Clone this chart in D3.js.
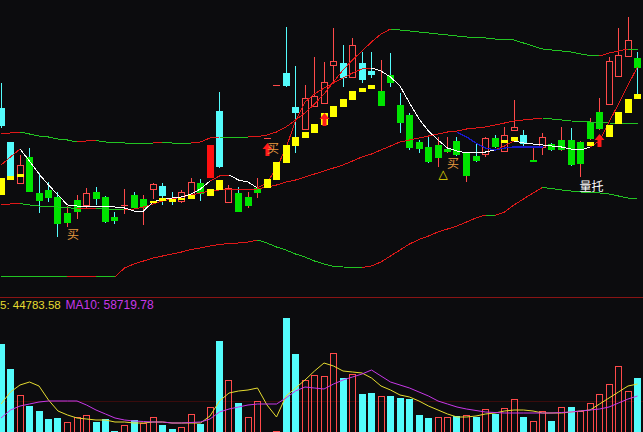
<!DOCTYPE html>
<html><head><meta charset="utf-8">
<script src="https://cdn.jsdelivr.net/npm/d3@7"></script>
<style>html,body{margin:0;padding:0;background:#0c0c0e;overflow:hidden}svg{display:block}</style>
</head><body><svg id="c" width="643" height="432"></svg>
<script>
// ---- data (prices & volumes) ----
const openP=[19.2,15.8,11.6,14.3,10.7,11.0,10.3,7.7,8.8,9.4,10.8,10.3,8.3,9.4,10.5,9.2,11.0,11.4,10.2,9.8,10.5,11.7,12.2,18.9,9.7,10.7,9.4,10.7,16.2,21.5,22.7,19.3,17.0,19.3,19.6,23.4,23.7,22.2,23.7,22.9,19.4,22.5,19.5,18.5,15.8,15.3,14.2,14.8,15.9,12.4,14.4,14.5,16.2,14.8,16.9,16.5,13.8,15.2,15.6,15.0,16.0,13.6,16.1,17.1,19.5,22.3,24.3,24.2];
const closeP=[17.4,12.4,13.5,10.8,9.9,10.2,7.6,8.7,10.0,10.7,10.1,7.8,7.9,9.5,9.2,10.1,11.6,10.4,9.9,10.8,11.8,10.6,15.5,13.3,11.2,8.8,10.3,11.2,16.2,21.5,21.4,18.7,20.2,20.4,21.8,23.9,22.2,25.5,22.0,22.5,20.9,21.7,17.7,15.2,15.1,13.8,15.5,15.1,14.5,14.7,13.9,16.2,15.3,16.5,17.3,15.6,14.0,16.3,15.0,16.0,13.5,15.8,17.8,18.8,23.9,24.5,26.0,23.2];
const highP=[21.7,15.8,14.5,15.2,12.7,11.8,10.8,9.4,10.5,11.2,11.3,10.4,8.8,11.1,10.8,10.5,11.7,11.7,10.8,11.0,12.2,12.1,15.5,20.8,11.5,11.3,10.8,12.2,16.2,21.5,27.3,23.4,21.5,24.3,23.8,27.2,25.5,26.2,24.8,24.8,24.0,24.7,20.7,18.7,16.0,16.3,16.3,16.3,16.3,14.8,15.7,16.3,16.5,17.3,20.0,17.0,15.2,16.7,15.7,17.3,17.2,15.9,18.2,20.2,24.3,27.2,28.3,24.8];
const lowP=[17.2,12.4,11.6,10.8,8.7,9.8,6.3,7.3,8.1,9.2,9.5,7.7,7.6,8.6,9.1,7.5,10.1,9.5,9.5,9.7,10.4,9.9,12.2,13.2,9.7,8.8,9.2,10.2,16.2,21.5,21.3,14.7,17.0,19.3,19.6,21.7,21.3,22.2,21.7,22.2,19.4,21.3,16.7,15.0,14.7,13.7,13.3,14.7,14.4,11.8,13.8,14.3,15.2,14.8,16.9,15.2,13.8,14.5,14.9,14.9,13.4,12.3,16.0,17.0,19.5,22.3,24.3,20.5];
// indicator state per bar: n = plain, g = green signal, r = red signal
const barSignal=['n','n','n','g','g','g','g','g','g','n','g','g','g','n','g','g','n','n','n','n','n','g','r','n','n','g','g','g','n','n','n','n','n','n','n','n','n','n','n','n','g','g','g','g','g','g','g','g','g','g','g','n','g','n','n','n','g','n','g','g','g','g','g','g','n','n','n','g'];
const upperBand=[16.6,16.7,16.8,16.6,16.4,16.3,16.1,16.0,15.8,15.9,15.95,15.8,15.8,15.7,15.7,15.7,15.7,15.75,15.7,15.7,15.7,15.8,16.2,16.3,16.3,16.3,16.3,16.35,16.5,16.8,17.3,18.0,18.7,19.6,20.6,21.8,23.0,24.0,24.9,25.8,26.6,27.1,27.0,26.9,26.8,26.7,26.6,26.5,26.4,26.3,26.25,26.2,26.1,26.05,26.0,25.7,25.4,25.1,25.0,24.9,24.8,24.6,24.45,24.4,24.7,24.9,25.1,25.0];
const midBand=[9.5,9.6,9.65,9.5,9.4,9.4,9.3,9.25,9.1,9.15,9.2,9.1,9.05,9.0,9.1,9.3,9.6,9.9,10.1,10.3,10.5,10.7,10.9,11.0,11.02,11.04,11.06,11.1,11.3,11.5,11.8,12.0,12.3,12.6,12.9,13.2,13.5,13.9,14.3,14.6,15.0,15.4,15.8,16.0,16.2,16.4,16.6,16.8,16.9,17.1,17.2,17.3,17.5,17.7,17.9,18.0,18.1,18.2,18.1,18.0,17.9,17.88,17.8,17.77,17.7,17.68,17.65,17.6];
const lowerBand=[2.4,2.4,2.38,2.36,2.35,2.34,2.32,2.3,2.32,2.34,2.36,2.34,2.32,3.2,3.6,3.9,4.2,4.4,4.6,4.8,5.05,5.2,5.4,5.55,5.65,5.7,5.8,6.0,5.7,5.3,5.0,4.6,4.3,3.9,3.6,3.35,3.3,3.28,3.26,3.4,3.8,4.4,5.0,5.6,6.05,6.4,6.8,7.1,7.4,7.8,8.2,8.5,8.45,8.8,9.5,10.1,10.7,11.25,11.15,11.0,10.9,10.8,10.75,10.7,10.6,10.4,10.2,10.15];
const ma5=[13.5,14.3,15.1,13.9,12.6,11.5,10.5,9.5,9.4,9.4,9.4,9.4,9.3,9.2,8.9,8.9,9.8,10.1,10.2,10.3,10.6,11.1,11.9,12.4,12.5,12.0,11.8,11.2,11.7,13.2,15.2,17.9,19.8,20.6,21.2,21.7,22.2,22.7,23.1,23.2,22.9,22.3,21.4,19.7,18.1,16.9,16.0,15.2,14.9,14.7,14.8,14.8,15.0,15.4,15.9,15.7,15.6,15.5,15.4,15.3,15.1,15.0,15.3,15.9,17.8,19.6,21.5,23.3];
const ma5Bull=[0,1,1,0,0,0,0,0,0,0,0,0,0,0,0,0,0,0,0,0,0,0,0,1,1,0,0,0,1,1,1,1,1,1,1,1,1,1,1,1,0,0,0,0,0,0,0,0,0,0,0,0,0,1,1,0,0,0,0,0,0,0,0,1,1,1,1,1];
const blueIdx=[48,49,50,51,52,53,54,55,56,57];
const blueVal=[16.8,16.3,15.7,15.2,15.0,15.2,15.3,15.3,15.3,15.3];
const yellowIdx=[0,1,2,16,17,18,19,20,22,23,28,29,30,31,32,33,34,35,36,37,38,39,53,54,62,64,65,66,67];
const yellowHi=[12.2,12.4,12.6,9.9,10.2,10.1,10.2,10.5,11.1,12.0,12.1,13.8,15.5,16.3,16.8,17.6,18.7,19.4,20.1,20.9,21.2,21.5,16.0,16.3,15.8,17.5,18.8,20.1,20.6];
const yellowLo=[10.5,12.0,12.3,9.7,9.9,9.8,10.0,10.1,10.4,11.0,11.2,12.0,13.7,15.4,16.2,16.7,17.5,18.3,19.3,20.0,20.8,21.1,15.7,15.9,15.4,16.3,17.6,18.7,20.1];
const arrowIdx=[28,34,63];
const arrowPrice=[15.7,18.7,16.6];
const buyIdx=[7,28,47];
const buyPrice=[6.1,14.7,13.2];
const triIdx=[47];
const triPrice=[12.2];
const noteIdx=[62];
const noteText=['量托'];
const notePrice=[10.9];
const volume=[88000,63000,37000,26000,21000,13000,14000,10000,15000,17000,10000,13000,1000,7000,12000,9000,15000,7000,3000,5000,18000,8000,25000,91000,52000,29000,15000,31000,500,1000,114000,78000,52000,57000,56000,79000,54000,58000,38000,39000,36000,36000,34000,33000,17000,14000,15000,15000,16000,17000,15000,23000,18000,24000,33000,15000,11000,21000,11000,25000,25000,21000,29000,38000,48000,66000,41000,54000];
const volMA5=[28000,40000,47000,50000,46000,32000,21000,17000,14000,13000,12000,12000,10000,10000,9000,9000,10000,10000,9000,9000,9000,9000,16000,31000,39000,41000,42000,44000,27000,15000,36000,44000,52000,61000,69000,66000,61000,60000,59000,54000,46000,42000,37000,35000,31000,26000,22000,18000,15000,15000,16000,18000,19000,21000,22000,22000,21000,19000,19000,19000,20000,21000,22000,28000,34000,40000,46000,48000];
const volMA10=[14000,22000,26000,28000,30000,31000,31000,31000,31000,27000,22000,18000,14000,12000,11000,10500,10000,10000,9000,9000,9500,10000,13000,20000,23000,25000,27000,28000,28000,28000,34000,41000,45000,44000,43000,48000,52000,55000,58000,62000,56000,50000,47000,44000,40000,36000,31000,28000,25000,23000,21500,20000,19500,19000,19000,19000,19000,19000,19000,19500,20000,21000,22000,23000,25000,29000,33000,36000];
const volLabels=['5: 44783.58','MA10: 58719.78'];
const volGrid=[31000];

// ---- drawing ----
const C={bg:'#0c0c0e',up:'#ff4a4a',down:'#54fcfc',green:'#00e400',redFill:'#ff1010',yellow:'#ffff00',
  lineUp:'#e01818',lineDn:'#22c422',white:'#ffffff',blue:'#1818c8',sep:'#8a1414',vma5:'#e6dc30',vma10:'#c838e8',buy:'#e89a40'};
const svg=d3.select('#c');
svg.append('rect').attr('width',643).attr('height',432).attr('fill',C.bg);
const n=openP.length;
const idx=d3.range(n);
const x=d3.scaleLinear().domain([0,n-1]).range([1,637.5]);
const y=d3.scaleLinear().domain([0,30]).range([300,0]);
const yv=d3.scaleLinear().domain([0,140000]).range([432,292]);
const left=i=>Math.round(x(i)-3.5);
const cx=i=>left(i)+3.5;
const py=v=>Math.round(y(v));
const up=i=>closeP[i]>=openP[i];

const defs=svg.append('defs');
defs.append('clipPath').attr('id','cm').append('rect').attr('x',0).attr('y',0).attr('width',643).attr('height',296);
defs.append('clipPath').attr('id','cv').append('rect').attr('x',0).attr('y',298).attr('width',643).attr('height',134);
const gm=svg.append('g').attr('clip-path','url(#cm)');
const gv=svg.append('g').attr('clip-path','url(#cv)');

// candles
const gc=gm.append('g').attr('shape-rendering','crispEdges');
idx.forEach(i=>{
  const col=up(i)?C.up:C.down;
  const hi=py(highP[i]), lo=py(lowP[i]);
  const top=py(Math.max(openP[i],closeP[i])), bot=py(Math.min(openP[i],closeP[i]));
  const h=Math.max(1,bot-top);
  if(lo-hi>0) gc.append('rect').attr('x',left(i)+3).attr('y',hi).attr('width',1).attr('height',lo-hi).attr('fill',col);
  const s=barSignal[i];
  if(s==='g') gc.append('rect').attr('x',left(i)).attr('y',top).attr('width',7).attr('height',h).attr('fill',C.green);
  else if(s==='r') gc.append('rect').attr('x',left(i)).attr('y',top).attr('width',7).attr('height',h).attr('fill',C.redFill);
  else if(up(i)){
    if(h<=2) gc.append('rect').attr('x',left(i)).attr('y',top).attr('width',7).attr('height',h).attr('fill',C.up);
    else gc.append('rect').attr('x',left(i)+0.5).attr('y',top+0.5).attr('width',6).attr('height',h-1).attr('fill',C.bg).attr('stroke',C.up).attr('stroke-width',1);
  } else gc.append('rect').attr('x',left(i)).attr('y',top).attr('width',7).attr('height',h).attr('fill',C.down);
});

// segmented lines
const gl=gm.append('g').attr('fill','none').attr('stroke-width',1).attr('shape-rendering','crispEdges');
const seg=d3.line();
function colored(vals,colorFn){
  for(let i=1;i<vals.length;i++){
    gl.append('path').attr('d',seg([[x(i-1),y(vals[i-1])],[x(i),y(vals[i])]])).attr('stroke',colorFn(i,vals));
  }
}
const slope=(i,v)=>v[i]>v[i-1]?C.lineUp:C.lineDn;
colored(upperBand,slope);
colored(midBand,slope);
colored(lowerBand,slope);
colored(ma5,(i)=>ma5Bull[i]?C.lineUp:C.white);
gl.append('path').attr('d',d3.line().x((d,k)=>x(blueIdx[k])).y(d=>y(d))(blueVal)).attr('stroke',C.blue).attr('stroke-width',1.3);

// yellow signal boxes
const gy=gm.append('g').attr('shape-rendering','crispEdges');
yellowIdx.forEach((i,k)=>{
  const t=py(yellowHi[k]), b=py(yellowLo[k]);
  gy.append('rect').attr('x',left(i)).attr('y',t).attr('width',7).attr('height',Math.max(1,b-t)).attr('fill',C.yellow);
});

// arrows
arrowIdx.forEach((i,k)=>{
  const X=cx(i), T=py(arrowPrice[k]);
  gm.append('path').attr('d',`M${X},${T}L${X+5},${T+6}L${X+2},${T+6}L${X+2},${T+13}L${X-2},${T+13}L${X-2},${T+6}L${X-5},${T+6}Z`).attr('fill','#ff1a1a');
});
// texts
const cjk='"Noto Sans CJK SC","Noto Sans",sans-serif';
buyIdx.forEach((i,k)=>{
  gm.append('text').attr('x',cx(i)+5.5).attr('y',y(buyPrice[k])).attr('text-anchor','middle')
    .attr('font-family',cjk).attr('font-size',12).attr('fill',C.buy).text('买');
});
triIdx.forEach((i,k)=>{
  gm.append('text').attr('x',cx(i)-4.5).attr('y',y(triPrice[k])).attr('text-anchor','middle')
    .attr('font-family','"DejaVu Sans",sans-serif').attr('font-size',12).attr('fill','#f0e000').text('△');
});
noteIdx.forEach((i,k)=>{
  gm.append('text').attr('x',cx(i)+1).attr('y',y(notePrice[k])).attr('text-anchor','middle')
    .attr('font-family',cjk).attr('font-size',12).attr('fill','#ffffff').text(noteText[k]);
});

// separator
svg.append('line').attr('x1',0).attr('x2',643).attr('y1',297.5).attr('y2',297.5).attr('stroke',C.sep).attr('stroke-width',1);

// volume panel
volGrid.forEach(v=>gv.append('line').attr('x1',0).attr('x2',643).attr('y1',Math.round(yv(v))+0.5).attr('y2',Math.round(yv(v))+0.5).attr('stroke','#3a0c0c'));
const gvb=gv.append('g').attr('shape-rendering','crispEdges');
idx.forEach(i=>{
  const t=Math.round(yv(volume[i]));
  if(up(i)) gvb.append('rect').attr('x',left(i)+0.5).attr('y',t+0.5).attr('width',6).attr('height',440-t).attr('fill','none').attr('stroke',C.up);
  else gvb.append('rect').attr('x',left(i)).attr('y',t).attr('width',7).attr('height',440-t).attr('fill',C.down);
});
const vl=d3.line().x((d,i)=>x(i)).y(d=>yv(d));
gv.append('path').attr('d',vl(volMA5)).attr('fill','none').attr('stroke',C.vma5).attr('stroke-width',1);
gv.append('path').attr('d',vl(volMA10)).attr('fill','none').attr('stroke',C.vma10).attr('stroke-width',1);
svg.append('text').attr('x',0).attr('y',309).attr('font-family','"Liberation Sans",Arial,sans-serif').attr('font-size',11.5).attr('fill',C.vma5).text(volLabels[0]);
svg.append('text').attr('x',65.5).attr('y',309).attr('font-family','"Liberation Sans",Arial,sans-serif').attr('font-size',12).attr('fill',C.vma10).text(volLabels[1]);
</script></body></html>
